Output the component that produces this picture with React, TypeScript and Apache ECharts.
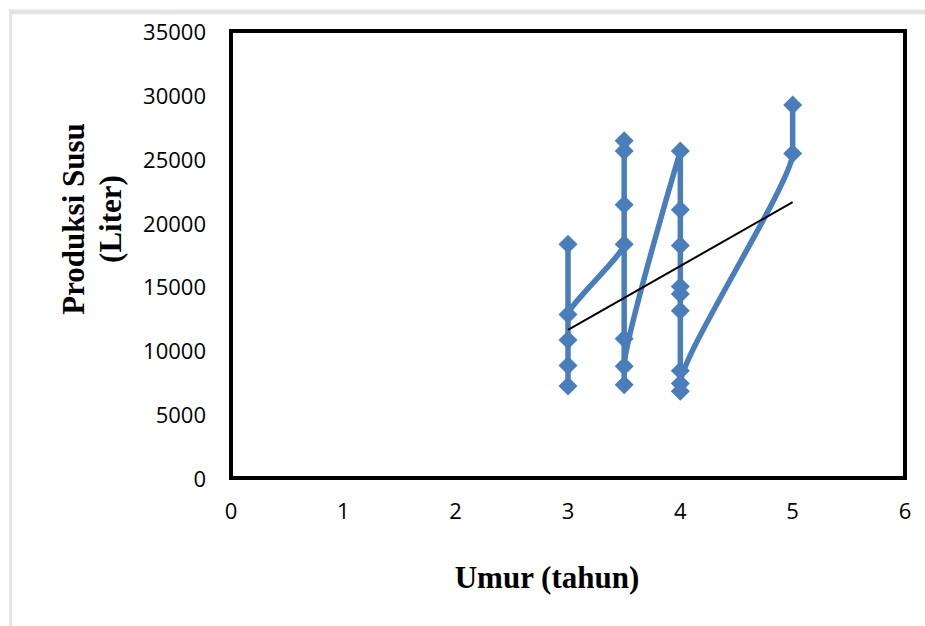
import React, { useEffect, useRef } from "react";
import * as echarts from "echarts";

const umur = [3, 3, 3, 3, 3, 3.5, 3.5, 3.5, 3.5, 3.5, 3.5, 3.5, 4, 4, 4, 4, 4, 4, 4, 4, 4, 5, 5];
const produksi = [
  18300, 7200, 8800, 10800, 12800,
  18300, 26400, 25600, 21400, 10900, 7300, 8750,
  25600, 21000, 18200, 15000, 14400, 13100, 8400, 6800, 7400,
  25400, 29200,
];
const trendX = [3, 5];
const trendY = [11600, 21600];
const xTicks = [0, 1, 2, 3, 4, 5, 6];
const yTicks = [0, 5000, 10000, 15000, 20000, 25000, 30000, 35000];

export default function App() {
  const ref = useRef<HTMLDivElement>(null);
  useEffect(() => {
    if (!ref.current) return;
    const chart = echarts.init(ref.current, null, { renderer: "svg" });
    const labelStyle = { color: "#000", fontSize: 22, fontFamily: "Open Sans" };
    chart.setOption({
      animation: false,
      backgroundColor: "#fff",
      grid: {
        left: 231,
        right: 20,
        top: 31,
        bottom: 148,
        show: true,
        borderColor: "#000",
        borderWidth: 4,
        backgroundColor: "transparent",
      },
      xAxis: {
        type: "value",
        min: xTicks[0],
        max: xTicks[xTicks.length - 1],
        interval: 1,
        axisLine: { show: true, lineStyle: { color: "#000", width: 3 } },
        axisTick: { show: false },
        splitLine: { show: false },
        axisLabel: { ...labelStyle, margin: 21, formatter: (v: number) => String(v) },
      },
      yAxis: {
        type: "value",
        min: yTicks[0],
        max: yTicks[yTicks.length - 1],
        interval: 5000,
        axisLine: { show: true, lineStyle: { color: "#000", width: 3 } },
        axisTick: { show: false },
        splitLine: { show: false },
        axisLabel: { ...labelStyle, margin: 25, formatter: (v: number) => String(v) },
      },
      graphic: [
        {
          type: "rect",
          shape: { x: 10, y: 9, width: 915, height: 6 },
          style: {
            fill: new echarts.graphic.LinearGradient(0, 0, 0, 1, [
              { offset: 0, color: "#f2f2f2" },
              { offset: 0.5, color: "#dedede" },
              { offset: 1, color: "#f4f4f4" },
            ]),
          },
          silent: true,
        },
        {
          type: "rect",
          shape: { x: 9, y: 9, width: 3, height: 617 },
          style: { fill: "#e4e4e4" },
          silent: true,
        },
        {
          type: "text",
          x: 547,
          y: 577,
          style: {
            text: "Umur (tahun)",
            fontFamily: "Liberation Serif",
            fontWeight: "bold",
            fontSize: 31,
            fill: "#000",
            align: "center",
            verticalAlign: "middle",
          },
        },
        {
          type: "text",
          x: 92,
          y: 219,
          rotation: Math.PI / 2,
          style: {
            text: "Produksi Susu\n(Liter)",
            fontFamily: "Liberation Serif",
            fontWeight: "bold",
            fontSize: 31,
            lineHeight: 37,
            fill: "#000",
            align: "center",
            verticalAlign: "middle",
          },
        },
      ],
      series: [
        {
          type: "line",
          data: umur.map((x, i) => [x, produksi[i]]),
          smooth: 0.12,
          symbol: "diamond",
          symbolSize: 19,
          itemStyle: { color: "#4A7EBB" },
          lineStyle: { color: "#4A7EBB", width: 5.5 },
          z: 2,
        },
        {
          type: "line",
          data: trendX.map((x, i) => [x, trendY[i]]),
          symbol: "none",
          lineStyle: { color: "#000", width: 2 },
          z: 3,
        },
      ],
    });
    return () => chart.dispose();
  }, []);
  return (
    <div
      ref={ref}
      style={{ position: "absolute", left: 0, top: 0, width: 925, height: 626 }}
    />
  );
}
